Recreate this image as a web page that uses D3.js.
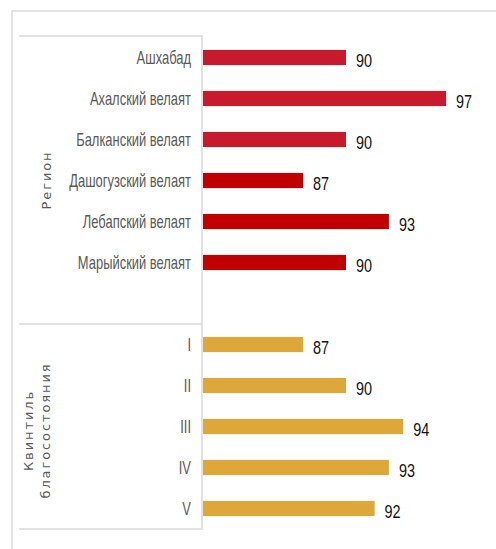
<html lang="ru">
<head>
<meta charset="UTF-8">
<title>Регион и квинтиль благосостояния</title>
<style>
    body { margin: 0; background: #fff; }
    .cat { font-family: "Liberation Sans", Arial, sans-serif; font-size: 17.5px; fill: #595959; }
    .val { font-family: "Liberation Sans", Arial, sans-serif; font-size: 18.5px; fill: #111; }
    .grp { font-family: "DejaVu Sans", sans-serif; font-size: 13px; fill: #595959; letter-spacing: 1.9px; }
    .frame { stroke: #d9d9d9; stroke-width: 1.5; fill: none; }
</style>
</head>
<body>
<div id="chart"></div>
<script src="https://d3js.org/d3.v7.min.js"></script>
<script>
    // regions
    const regions = ['Ашхабад', 'Ахалский велаят', 'Балканский велаят', 'Дашогузский велаят', 'Лебапский велаят', 'Марыйский велаят'];
    const regionValues = [90, 97, 90, 87, 93, 90];
    const regionColors = ['#c8192d', '#c8192d', '#c8192d', '#c00000', '#c00000', '#c00000'];
    // wealth quintiles
    const quintiles = ['I', 'II', 'III', 'IV', 'V'];
    const quintileValues = [87, 90, 94, 93, 92];
    const quintileColor = '#dda73a';

    const width = 496, height = 549;
    const axisX = 202;

    const rows = regions.map((c, i) => ({ key: 'r' + i, label: c, value: regionValues[i], color: regionColors[i] }))
        .concat([{ key: 'gap', label: '', value: null }])
        .concat(quintiles.map((c, i) => ({ key: 'q' + i, label: c, value: quintileValues[i], color: quintileColor })));

    const svg = d3.select('#chart').append('svg')
        .attr('width', width).attr('height', height);

    const x = d3.scaleLinear().domain([80, 100]).range([axisX + 1, axisX + 1 + 286]);
    const y = d3.scaleBand().domain(rows.map(d => d.key)).range([37, 529]).paddingInner(0.63).paddingOuter(0.315);

    // outer chart frame
    svg.append('path').attr('class', 'frame').attr('d', `M12,${height} V11 H${width}`);

    // category group box
    const boxTop = 36, boxBottom = 529;
    const sepY = Math.round(y('gap') + y.bandwidth() / 2 + y.step() / 2);
    svg.append('path').attr('class', 'frame')
        .attr('d', `M19,${boxTop} H${axisX} V${boxBottom} H19 M19,${sepY} H${axisX}`);

    const bars = rows.filter(d => d.value !== null);

    svg.selectAll('rect.bar').data(bars).enter().append('rect')
        .attr('class', 'bar')
        .attr('x', x(80))
        .attr('y', d => y(d.key))
        .attr('width', d => x(d.value) - x(80))
        .attr('height', y.bandwidth())
        .attr('fill', d => d.color);

    // narrow, Calibri-like look: squeeze text horizontally
    svg.selectAll('text.cat').data(bars).enter().append('text')
        .attr('class', 'cat')
        .attr('transform', d => `translate(191,${y(d.key) + y.bandwidth() / 2 + 6}) scale(0.74,1)`)
        .attr('text-anchor', 'end')
        .text(d => d.label);

    svg.selectAll('text.val').data(bars).enter().append('text')
        .attr('class', 'val')
        .attr('transform', d => `translate(${x(d.value) + 10},${y(d.key) + y.bandwidth() / 2 + 9.5}) scale(0.78,1)`)
        .text(d => d.value);

    // group titles
    const regCenter = (boxTop + sepY) / 2;
    svg.append('text').attr('class', 'grp')
        .attr('transform', `translate(51,${regCenter}) rotate(-90)`)
        .attr('text-anchor', 'middle')
        .text('Регион');

    const qCenter = (sepY + boxBottom) / 2 + 4;
    const qt = svg.append('text').attr('class', 'grp')
        .attr('transform', `translate(33,${qCenter}) rotate(-90)`)
        .attr('text-anchor', 'middle');
    qt.append('tspan').attr('x', 0).attr('dy', 0).text('Квинтиль');
    qt.append('tspan').attr('x', 0).attr('dy', 17).text('благосостояния');
</script>
</body>
</html>
